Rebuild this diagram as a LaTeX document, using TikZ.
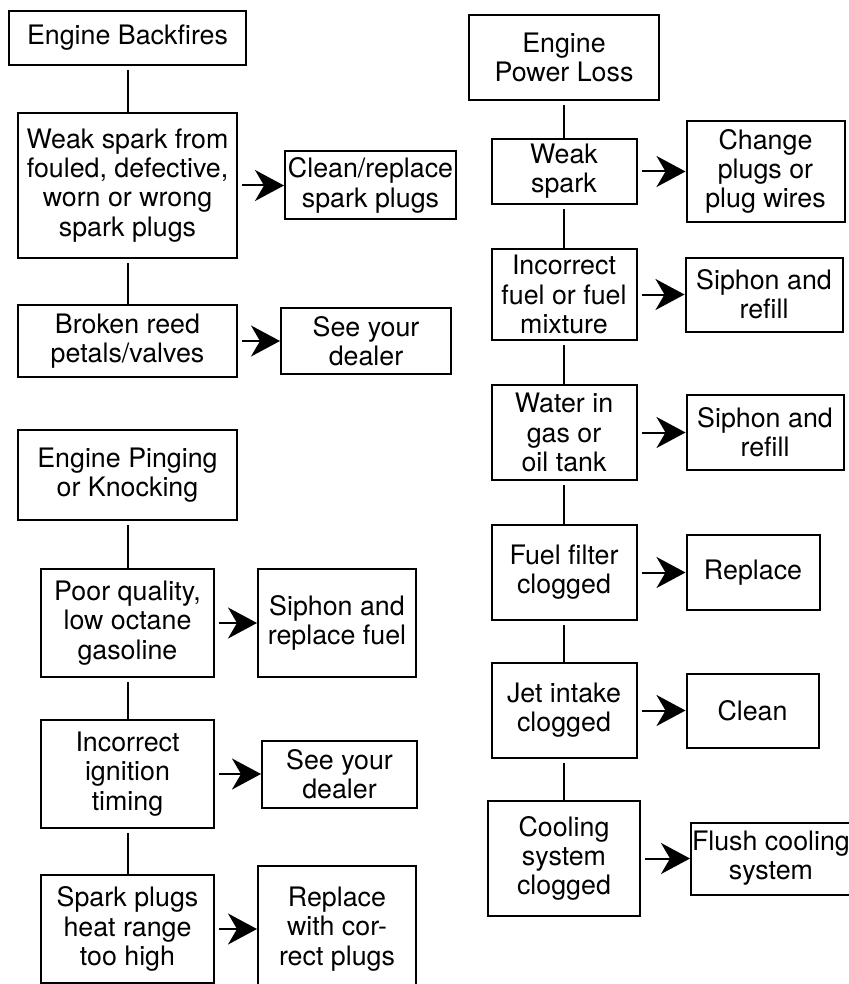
\documentclass[tikz,border=0pt]{standalone}
\usepackage{fontspec}
\setmainfont{TeX Gyre Heros}
\usetikzlibrary{arrows.meta, positioning}

\begin{document}
\begin{tikzpicture}[
  font=\fontsize{13.4}{14.6}\selectfont,
  node distance=21.5pt,
  box/.style={draw, line width=1pt, align=center, inner sep=0.5pt},
  sz/.style 2 args={minimum width=#1, minimum height=#2},
  link/.style={line width=1pt, shorten <=2pt},
  arr/.style={-{Stealth[length=14.5pt, width=15.5pt, inset=4.5pt]}, line width=1pt, shorten <=2pt}
]
\useasboundingbox (0,0) rectangle (424pt,-492pt);

\node[box, sz={118.5pt}{27pt}, anchor=north] (bf) at (63.75pt,-5pt) {Engine Backfires};
\node[box, sz={109.5pt}{72.5pt}, below=23pt of bf] (bfspark) {Weak spark from\\fouled, defective,\\worn or wrong\\spark plugs};
\node[box, sz={85.5pt}{34pt}, right=23pt of bfspark] (bfplugs) {Clean/replace\\spark plugs};
\node[box, sz={109.5pt}{36pt}, below=22.5pt of bfspark] (bfreed) {Broken reed\\petals/valves};
\node[box, sz={85pt}{33pt}, right=21pt of bfreed] (bfdealer) {See your\\dealer};

\node[box, sz={109.5pt}{45pt}, anchor=north] (pk) at (63.75pt,-214.5pt) {Engine Pinging\\or Knocking};
\node[box, sz={86.5pt}{54pt}, below=23.5pt of pk] (pkfuel) {Poor quality,\\low octane\\gasoline};
\node[box, sz={79pt}{54pt}, right=21pt of pkfuel] (pksiphon) {Siphon and\\replace fuel};
\node[box, sz={86.5pt}{54pt}, below=20.5pt of pkfuel] (pktiming) {Incorrect\\ignition\\timing};
\node[box, sz={77.5pt}{33.5pt}, right=23pt of pktiming] (pkdealer) {See your\\dealer};
\node[box, sz={86.5pt}{54pt}, below=22.5pt of pktiming] (pkheat) {Spark plugs\\heat range\\too high};
\node[box, sz={79pt}{63pt}, right=21pt of pkheat] (pkplugs) {Replace\\with cor-\\rect plugs};

\node[box, sz={95pt}{42.5pt}, anchor=north] (pl) at (282pt,-7pt) {Engine\\Power Loss};
\node[box, sz={72.5pt}{32.5pt}, below=18.5pt of pl] (plspark) {Weak\\spark};
\node[box, sz={79pt}{50.5pt}, right=24pt of plspark] (plwires) {Change\\plugs or\\plug wires};
\node[box, sz={72.5pt}{45.5pt}, below=21.5pt of plspark] (plmix) {Incorrect\\fuel or fuel\\mixture};
\node[box, sz={78.5pt}{37pt}, right=23.5pt of plmix] (plrefill) {Siphon and\\refill};
\node[box, sz={72.5pt}{47.5pt}, below=21.5pt of plmix] (plwater) {Water in\\gas or\\oil tank};
\node[box, sz={78.5pt}{37.5pt}, right=24pt of plwater] (plrefilltank) {Siphon and\\refill};
\node[box, sz={72.5pt}{47.5pt}, below=21.5pt of plwater] (plfilter) {Fuel filter\\clogged};
\node[box, sz={66.5pt}{37.5pt}, right=24pt of plfilter] (plreplace) {Replace};
\node[box, sz={72.5pt}{47.5pt}, below=20.5pt of plfilter] (pljet) {Jet intake\\clogged};
\node[box, sz={66pt}{37pt}, right=24pt of pljet] (plclean) {Clean};
\node[box, sz={76pt}{57.5pt}, below=20.5pt of pljet] (plcool) {Cooling\\system\\clogged};
\node[box, sz={78pt}{36pt}, right=24.5pt of plcool] (plflush) {Flush cooling\\system};

\draw[link] (bf) -- (bfspark);
\draw[link] (bfspark) -- (bfreed);
\draw[arr] (bfspark) -- (bfplugs);
\draw[arr] (bfreed) -- (bfdealer);

\draw[link] (pk) -- (pkfuel);
\draw[link] (pkfuel) -- (pktiming);
\draw[link] (pktiming) -- (pkheat);
\draw[arr] (pkfuel) -- (pksiphon);
\draw[arr] (pktiming) -- (pkdealer);
\draw[arr] (pkheat) -- (pkplugs);

\draw[link] (pl) -- (plspark);
\draw[link] (plspark) -- (plmix);
\draw[link] (plmix) -- (plwater);
\draw[link] (plwater) -- (plfilter);
\draw[link] (plfilter) -- (pljet);
\draw[link] (pljet) -- (plcool);
\draw[arr] (plspark) -- (plwires);
\draw[arr] (plmix) -- (plrefill);
\draw[arr] (plwater) -- (plrefilltank);
\draw[arr] (plfilter) -- (plreplace);
\draw[arr] (pljet) -- (plclean);
\draw[arr] (plcool) -- (plflush);
\end{tikzpicture}
\end{document}
